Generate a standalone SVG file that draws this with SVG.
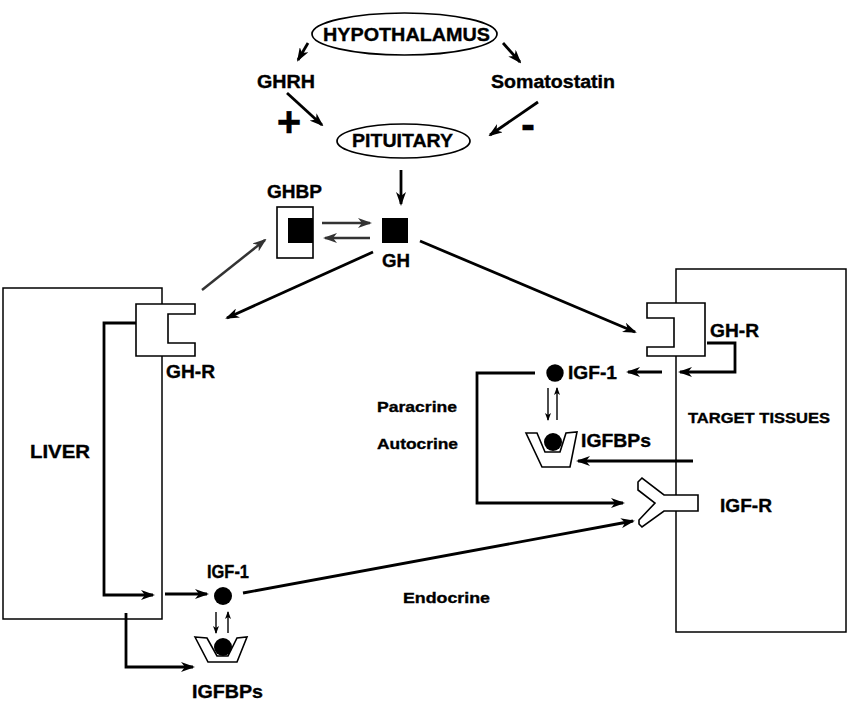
<svg xmlns="http://www.w3.org/2000/svg" width="850" height="702" viewBox="0 0 850 702">
<style>
  text { font-family: "Liberation Sans", Arial, sans-serif; font-weight: bold; fill: #000; stroke: #000; stroke-width: 0.35; }
  .box { fill: none; stroke: #000; stroke-width: 1.5; }
  .shape { fill: #fff; stroke: #000; stroke-width: 1.6; }
  .ell { fill: #fff; stroke: #000; stroke-width: 1.7; }
  .c { fill: none; stroke: #000; stroke-width: 2.8; marker-end: url(#ah); }
  .g { fill: none; stroke: #333; stroke-width: 2.5; marker-end: url(#ahg); }
  .t { fill: none; stroke: #000; stroke-width: 1.4; marker-end: url(#ahs); }
</style>
<defs>
  <marker id="ah" markerUnits="userSpaceOnUse" viewBox="0 0 14 10" refX="12" refY="5" markerWidth="14" markerHeight="10" orient="auto">
    <path d="M0,0 L14,5 L0,10 L4,5 z" fill="#000"/>
  </marker>
  <marker id="ahg" markerUnits="userSpaceOnUse" viewBox="0 0 14 10" refX="12" refY="5" markerWidth="14" markerHeight="10" orient="auto">
    <path d="M0,0 L14,5 L0,10 L4,5 z" fill="#333"/>
  </marker>
  <marker id="ahs" markerUnits="userSpaceOnUse" viewBox="0 0 8 6" refX="7" refY="3" markerWidth="8" markerHeight="6" orient="auto">
    <path d="M0,0 L8,3 L0,6 L2,3 z" fill="#000"/>
  </marker>
</defs>
<rect width="850" height="702" fill="#fff"/>

<g id="liver">
  <rect class="box" x="3" y="288" width="159" height="331"/>
  <text x="30" y="458" font-size="19" textLength="60" lengthAdjust="spacingAndGlyphs">LIVER</text>
</g>
<g id="target-tissues">
  <rect class="box" x="676" y="269" width="170" height="363"/>
  <text x="688" y="423" font-size="15.5" textLength="142" lengthAdjust="spacingAndGlyphs">TARGET TISSUES</text>
</g>

<g id="connectors">
  <line class="c" x1="308" y1="43" x2="298" y2="60"/>
  <line class="c" x1="503" y1="43" x2="520" y2="62"/>
  <line class="c" x1="287" y1="93" x2="322" y2="125"/>
  <line class="c" x1="538" y1="102" x2="490" y2="135"/>
  <line class="c" x1="401" y1="170" x2="401" y2="204"/>
  <line class="g" x1="322" y1="223" x2="370" y2="223"/>
  <line class="g" x1="370" y1="238" x2="325" y2="238"/>
  <line class="g" x1="202" y1="290" x2="265" y2="240"/>
  <line class="c" x1="373" y1="252" x2="227" y2="318"/>
  <line class="c" x1="420" y1="241" x2="635" y2="332"/>
  <polyline class="c" points="136,323 104,323 104,595 153,595"/>
  <line class="c" x1="165" y1="594" x2="207" y2="594"/>
  <line class="t" x1="216" y1="612" x2="216" y2="633"/>
  <line class="t" x1="228" y1="633" x2="228" y2="612"/>
  <polyline class="c" points="126,613 126,667 193,667"/>
  <line class="c" x1="243" y1="593" x2="633" y2="521"/>
  <polyline class="c" points="707,343 735,343 735,372 680,372"/>
  <line class="c" x1="662" y1="372" x2="628" y2="372"/>
  <polyline class="c" points="535,373 477,373 477,503 623,503"/>
  <line class="t" x1="548" y1="388" x2="548" y2="420"/>
  <line class="t" x1="557" y1="420" x2="557" y2="388"/>
  <line class="c" x1="693" y1="461" x2="578" y2="461"/>
</g>

<g id="hypothalamus">
  <ellipse class="ell" cx="404.5" cy="34" rx="92.5" ry="21"/>
  <text x="323" y="41" font-size="19" textLength="167" lengthAdjust="spacingAndGlyphs">HYPOTHALAMUS</text>
</g>
<g id="ghrh">
  <text x="257" y="88" font-size="18" textLength="58" lengthAdjust="spacingAndGlyphs">GHRH</text>
  <text x="289" y="136" font-size="42" text-anchor="middle">+</text>
</g>
<g id="somatostatin">
  <text x="491" y="88" font-size="18" textLength="124" lengthAdjust="spacingAndGlyphs">Somatostatin</text>
  <text x="528" y="139" font-size="42" text-anchor="middle">-</text>
</g>
<g id="pituitary">
  <ellipse class="ell" cx="403.5" cy="141" rx="66.5" ry="17"/>
  <text x="352" y="147" font-size="19" textLength="101" lengthAdjust="spacingAndGlyphs">PITUITARY</text>
</g>
<g id="ghbp">
  <rect class="shape" x="277" y="207" width="36" height="51"/>
  <rect x="288" y="218" width="25" height="25" fill="#000"/>
  <text x="267" y="198" font-size="18" textLength="55" lengthAdjust="spacingAndGlyphs">GHBP</text>
</g>
<g id="gh">
  <rect x="382" y="218" width="26" height="25" fill="#000"/>
  <text x="382" y="267" font-size="18" textLength="28" lengthAdjust="spacingAndGlyphs">GH</text>
</g>
<g id="liver-ghr">
  <polygon class="shape" points="136,304 195,304 195,314 168,314 168,343 195,343 195,356 136,356"/>
  <text x="166" y="378" font-size="18" textLength="49" lengthAdjust="spacingAndGlyphs">GH-R</text>
</g>
<g id="target-ghr">
  <polygon class="shape" points="647,303 705,303 705,356 647,356 647,347 674,347 674,318 647,318"/>
  <text x="710" y="337" font-size="18" textLength="49" lengthAdjust="spacingAndGlyphs">GH-R</text>
</g>
<g id="target-igf1">
  <circle cx="555" cy="373" r="8.7" fill="#000"/>
  <text x="568" y="379" font-size="18" textLength="49" lengthAdjust="spacingAndGlyphs">IGF-1</text>
</g>
<g id="paracrine-autocrine">
  <text x="377" y="412" font-size="15" textLength="80" lengthAdjust="spacingAndGlyphs">Paracrine</text>
  <text x="377" y="449" font-size="15" textLength="81" lengthAdjust="spacingAndGlyphs">Autocrine</text>
</g>
<g id="target-igfbps">
  <polygon class="shape" points="526,433 537,433 545,452 560,452 566,433 577,432 570,467 542,467"/>
  <circle cx="553" cy="442" r="9" fill="#000"/>
  <text x="581" y="447" font-size="19" textLength="70" lengthAdjust="spacingAndGlyphs">IGFBPs</text>
</g>
<g id="igf-r">
  <polygon class="shape" points="638,482 642,478 664,495 698,495 698,511 664,511 642,527 639,524 639,520 655,503 638,490"/>
  <text x="720" y="512" font-size="19" textLength="52" lengthAdjust="spacingAndGlyphs">IGF-R</text>
</g>
<g id="endocrine">
  <text x="403" y="603" font-size="15" textLength="87" lengthAdjust="spacingAndGlyphs">Endocrine</text>
</g>
<g id="liver-igf1">
  <circle cx="223" cy="596" r="9" fill="#000"/>
  <text x="207" y="578" font-size="18" textLength="42" lengthAdjust="spacingAndGlyphs">IGF-1</text>
</g>
<g id="liver-igfbps">
  <polygon class="shape" points="195,637 207,638 217,656 228,656 237,638 247,637 237,662 208,662"/>
  <circle cx="223" cy="647" r="9" fill="#000"/>
  <text x="192" y="698" font-size="19" textLength="71" lengthAdjust="spacingAndGlyphs">IGFBPs</text>
</g>
</svg>
